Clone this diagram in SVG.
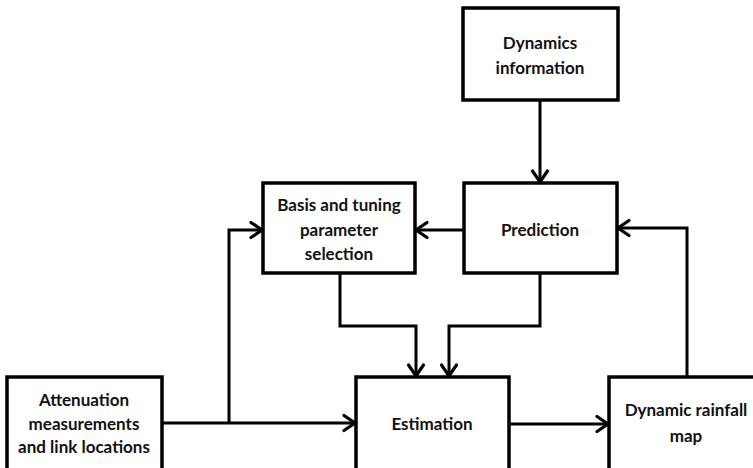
<svg xmlns="http://www.w3.org/2000/svg" width="753" height="468" viewBox="0 0 753 468">
<defs>
<marker id="arr" markerUnits="userSpaceOnUse" markerWidth="18" markerHeight="20" viewBox="0 0 18 20" refX="14" refY="10" orient="auto">
<path d="M3,2.5 L14,10 L3,17.5" fill="none" stroke="#000" stroke-width="3.2" stroke-linecap="round" stroke-linejoin="miter"/>
</marker>
<style>
.box{fill:#fff;stroke:#000;stroke-width:3.5}
.t{font-family:Lato,"Open Sans","Liberation Sans",sans-serif;font-weight:bold;font-size:17px;fill:#111;text-anchor:middle}
.c{fill:none;stroke:#000;stroke-width:3;stroke-linejoin:miter}
</style>
</defs>
<rect width="753" height="468" fill="#fff"/>
<g id="dynamics">
<rect class="box" x="463" y="8" width="155" height="92"/>
<text class="t" x="540" y="49">Dynamics</text>
<text class="t" x="540" y="74">information</text>
</g>
<g id="basis">
<rect class="box" x="263" y="183" width="152" height="90"/>
<text class="t" x="339" y="211">Basis and tuning</text>
<text class="t" x="339" y="236">parameter</text>
<text class="t" x="339" y="260">selection</text>
</g>
<g id="prediction">
<rect class="box" x="464" y="183" width="153" height="90"/>
<text class="t" x="540" y="236">Prediction</text>
</g>
<g id="attenuation">
<rect class="box" x="7" y="377" width="155" height="95"/>
<text class="t" x="84" y="406">Attenuation</text>
<text class="t" x="84" y="430">measurements</text>
<text class="t" x="84" y="453">and link locations</text>
</g>
<g id="estimation">
<rect class="box" x="356" y="377" width="153" height="95"/>
<text class="t" x="432" y="430">Estimation</text>
</g>
<g id="rainfall">
<rect class="box" x="609" y="377" width="156" height="95"/>
<text class="t" x="686" y="416">Dynamic rainfall</text>
<text class="t" x="686" y="442">map</text>
</g>
<g id="connectors">
<path class="c" d="M540,100 V182" marker-end="url(#arr)"/>
<path class="c" d="M464,230 H416" marker-end="url(#arr)"/>
<path class="c" d="M162,423 H355" marker-end="url(#arr)"/>
<path class="c" d="M229,423 V230 H262" marker-end="url(#arr)"/>
<path class="c" d="M340,273 V326 H416 V376" marker-end="url(#arr)"/>
<path class="c" d="M540,273 V326 H449 V376" marker-end="url(#arr)"/>
<path class="c" d="M509,424 H608" marker-end="url(#arr)"/>
<path class="c" d="M687,377 V228 H618" marker-end="url(#arr)"/>
</g>
</svg>
